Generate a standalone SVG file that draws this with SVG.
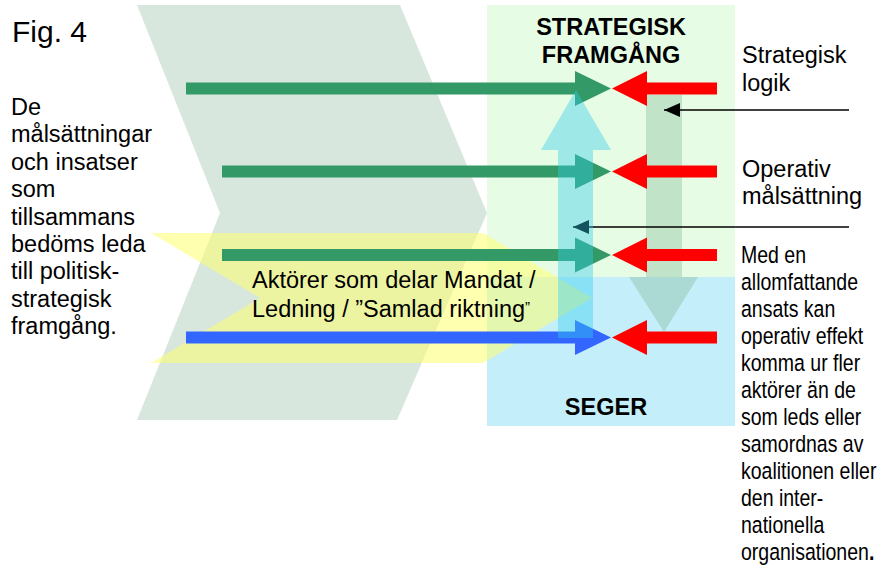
<svg xmlns="http://www.w3.org/2000/svg" width="884" height="572" viewBox="0 0 884 572">
<style>
text { font-family: "Liberation Sans", Arial, Helvetica, sans-serif; fill: #000; }
.t { font-size: 23.5px; }
.b { font-size: 23.5px; font-weight: bold; }
.green { fill: #339966; }
.blue { fill: #3366ff; }
.red { fill: #ff0000; }
.conn { stroke: #000; stroke-width: 1.6; fill: none; marker-end: url(#ah); }
</style>
<defs>
<path id="redArrow" d="M0,0 L35,-17.5 V-6 H105 V6 H35 V17.5 Z"/>
<marker id="ah" markerUnits="userSpaceOnUse" markerWidth="16" markerHeight="14" refX="16" refY="7" orient="auto">
<path d="M0,0 L16,7 L0,14 Z" fill="#000"/>
</marker>
</defs>

<g id="background">
<polygon id="chevron" points="137,5 400,5 487,213 397,420 137,420 220,213" fill="#d8e7de"/>
<rect id="green-zone" x="487" y="5" width="248" height="272" fill="#e6fce5"/>
<rect id="blue-zone" x="487" y="277" width="248" height="149" fill="#c4eefa"/>
<polygon id="yellow-chevron" points="151,233 483,233 592,298 483,363 151,363 260,298" fill="#ffff70" fill-opacity="0.55"/>
</g>

<g id="down-arrow">
<path d="M646,95 H682 V277 H698 L664,332 L629,277 H646 Z" fill="#7fb894" fill-opacity="0.36"/>
</g>

<g id="connectors">
<path class="green" d="M186,82.5 H575 V71 L611,88.5 L575,106 V94.5 H186 Z"/>
<path class="green" d="M222,165.5 H575 V154 L611,171.5 L575,189 V177.5 H222 Z"/>
<path class="green" d="M222,249 H575 V237.5 L611,255 L575,272.5 V261 H222 Z"/>
<path class="blue" d="M186,331.5 H575 V320 L611,337.5 L575,355 V343.5 H186 Z"/>
<use href="#redArrow" class="red" x="612" y="88.5"/>
<use href="#redArrow" class="red" x="612" y="171.5"/>
<use href="#redArrow" class="red" x="612" y="255"/>
<use href="#redArrow" class="red" x="612" y="337.5"/>
<line class="conn" x1="849" y1="110" x2="664" y2="110"/>
<line class="conn" x1="849" y1="227" x2="573" y2="227"/>
</g>

<g id="up-arrow">
<path d="M558,338 V150 H541 L576,90 L611,150 H593 V338 Z" fill="#33ccee" fill-opacity="0.4"/>
</g>

<g id="title">
<text x="12" y="42" style="font-size:30px">Fig. 4</text>
</g>

<g id="left-text">
<text class="t" x="11" y="115">De
<tspan x="11" dy="27.4">målsättningar</tspan>
<tspan x="11" dy="27.4">och insatser</tspan>
<tspan x="11" dy="27.4">som</tspan>
<tspan x="11" dy="27.4">tillsammans</tspan>
<tspan x="11" dy="27.4">bedöms leda</tspan>
<tspan x="11" dy="27.4">till politisk-</tspan>
<tspan x="11" dy="27.4">strategisk</tspan>
<tspan x="11" dy="27.4">framgång.</tspan></text>
</g>

<g id="strategisk-framgang">
<text class="b" x="611" y="35" text-anchor="middle">STRATEGISK</text>
<text class="b" x="611" y="63" text-anchor="middle">FRAMGÅNG</text>
</g>

<g id="seger">
<text class="b" x="606" y="415" text-anchor="middle">SEGER</text>
</g>

<g id="aktorer">
<text class="t" x="252" y="288">Aktörer som delar Mandat /</text>
<text class="t" x="252" y="317">Ledning / ”Samlad riktning<tspan style="font-size:15px" dy="-5">”</tspan></text>
</g>

<g id="strategisk-logik">
<text class="t" x="742" y="63">Strategisk</text>
<text class="t" x="742" y="91">logik</text>
</g>

<g id="operativ-malsattning">
<text class="t" x="742" y="177">Operativ</text>
<text class="t" x="742" y="204">målsättning</text>
</g>

<g id="med-en" transform="translate(741,263) scale(0.83,1)">
<text class="t" x="0" y="0">Med en
<tspan x="0" dy="27">allomfattande</tspan>
<tspan x="0" dy="27">ansats kan</tspan>
<tspan x="0" dy="27">operativ effekt</tspan>
<tspan x="0" dy="27">komma ur fler</tspan>
<tspan x="0" dy="27">aktörer än de</tspan>
<tspan x="0" dy="27">som leds eller</tspan>
<tspan x="0" dy="27">samordnas av</tspan>
<tspan x="0" dy="27">koalitionen eller</tspan>
<tspan x="0" dy="27">den inter-</tspan>
<tspan x="0" dy="27">nationella</tspan>
<tspan x="0" dy="27">organisationen<tspan style="font-weight:bold">.</tspan></tspan></text>
</g>
</svg>
